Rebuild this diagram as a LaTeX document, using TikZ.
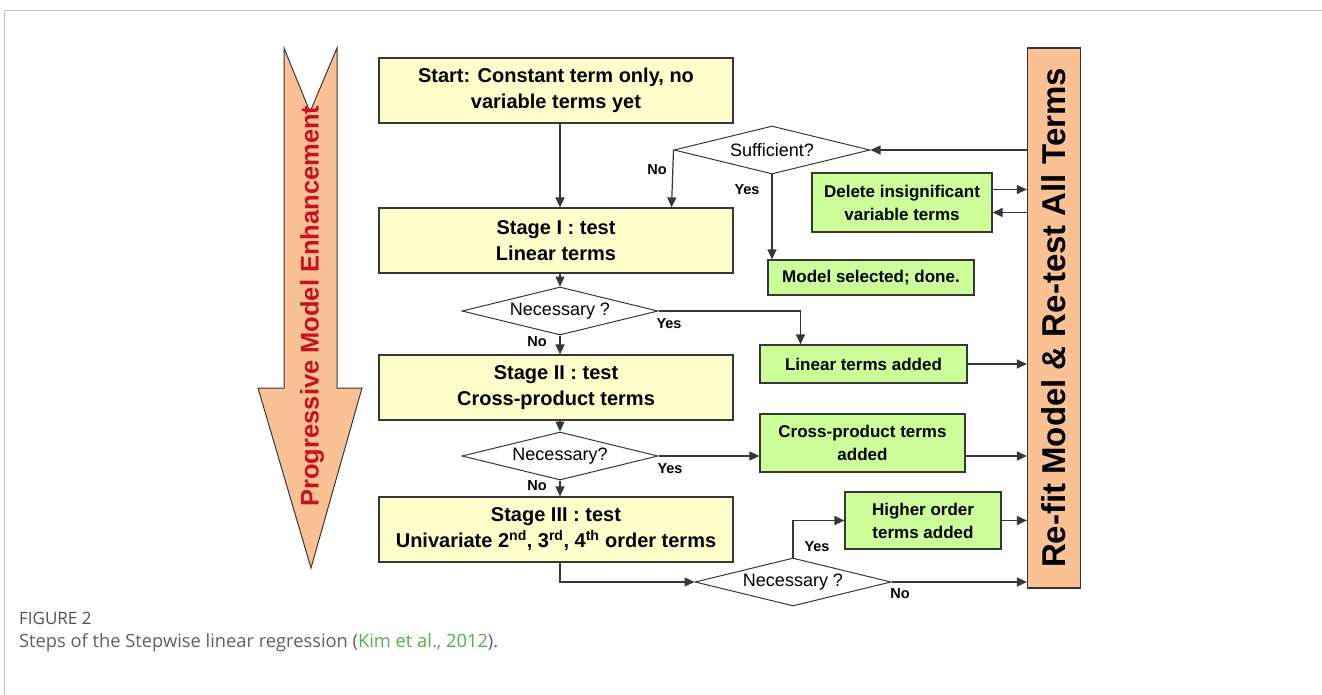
\documentclass[tikz,border=0pt]{standalone}
\usepackage{fontspec}
\setmainfont{Liberation Sans}
\newfontfamily\capfont{Open Sans}
\usetikzlibrary{shapes.geometric,arrows.meta}

\definecolor{stagefill}{RGB}{255,255,204}
\definecolor{addfill}{RGB}{204,255,153}
\definecolor{refitfill}{RGB}{250,194,148}
\definecolor{boxline}{RGB}{55,55,55}
\definecolor{enhred}{RGB}{200,16,32}
\definecolor{framegray}{RGB}{195,195,195}
\definecolor{capgray}{RGB}{95,95,95}
\definecolor{capgreen}{RGB}{80,176,80}

\tikzset{
  stagebox/.style={draw=boxline, fill=stagefill, line width=1.2pt, minimum width=354, minimum height=65, inner sep=0pt, align=center, font=\bfseries\fontsize{20}{26}\selectfont},
  addbox/.style={draw=boxline, fill=addfill, line width=1.2pt, inner sep=0pt, align=center, font=\bfseries\fontsize{17}{23}\selectfont},
  testdia/.style={diamond, draw=boxline, fill=white, line width=1pt, aspect=4, minimum width=196, minimum height=48, inner sep=0pt, font=\fontsize{18}{20}\selectfont},
  yesno/.style={font=\bfseries\fontsize{14.5}{16}\selectfont, inner sep=0pt},
  flow/.style={draw=boxline, line width=1.2pt, -{Triangle[length=10pt,width=9pt]}}
}

\begin{document}
\begin{tikzpicture}[x=1pt, y=-1pt]
  \useasboundingbox (0,0) rectangle (1322,695);

  % frame
  \draw[framegray, line width=1pt] (4,695) -- (4,11) -- (1322,11);

  % left arrow
  \draw[boxline, fill=refitfill, line width=1pt]
    (284,48) -- (310,112) -- (337,48) -- (337,388) -- (362,388) -- (311,568)
    -- (258,388) -- (284,388) -- cycle;
  \node (enh) at (312,306) [text=enhred, font=\bfseries\fontsize{25.5}{25.5}\selectfont] {\rotatebox{90}{Progressive Model Enhancement}};

  % right box
  \node (refit) at (1054,318) [draw=boxline, fill=refitfill, line width=1.2pt, minimum width=53, minimum height=540, inner sep=0pt, font=\bfseries\fontsize{33}{33}\selectfont] {\rotatebox{90}{Re-fit Model \& Re-test All Terms}};

  % stages
  \node (start) at (556,90.5)  [stagebox] {Start: Constant term only, no\\variable terms yet};
  \node (st1)   at (556,240.5) [stagebox] {Stage I : test\\Linear terms};
  \node (st2)   at (556,387.5) [stagebox] {Stage II : test\\Cross-product terms};
  \node (st3)   at (556,529.5) [stagebox] {Stage III : test\\Univariate 2\textsuperscript{nd}, 3\textsuperscript{rd}, 4\textsuperscript{th} order terms};

  % tests
  \node (suff) at (772,150) [testdia] {Sufficient?};
  \node (nec1) at (560,311) [testdia] {Necessary ?};
  \node (nec2) at (560,456) [testdia] {Necessary?};
  \node (nec3) at (793,582) [testdia] {Necessary ?};

  % green boxes
  \node (del)   at (902,202.5) [addbox, minimum width=180, minimum height=59] {Delete insignificant\\variable terms};
  \node (sel)   at (871,277.5) [addbox, minimum width=206, minimum height=35] {Model selected; done.};
  \node (lin)   at (863.5,364) [addbox, minimum width=207, minimum height=38] {Linear terms added};
  \node (cross) at (862.5,443) [addbox, minimum width=205, minimum height=58] {Cross-product terms\\added};
  \node (high)  at (923,520.5) [addbox, minimum width=156, minimum height=57] {Higher order\\terms added};

  % helper points
  \coordinate (delout) at ([yshift=13pt]del.east);
  \coordinate (delin)  at ([yshift=-10pt]del.east);

  % connectors
  \draw[flow] (start.south -| nec1.north) -- (st1.north -| nec1.north);
  \draw[flow] (refit.west |- suff.east) -- (suff.east);
  \draw[flow] (suff.west) -- ([xshift=-2pt]suff.west |- st1.north);
  \draw[flow] (suff.south) -- (suff.south |- sel.north);
  \draw[flow] (delout) -- (delout -| refit.west);
  \draw[flow] (delin -| refit.west) -- (delin);

  \draw[flow] (st1.south -| nec1.north) -- (nec1.north);
  \draw[flow] (nec1.east) -| ([xshift=-63pt]lin.north);
  \draw[flow] (nec1.south) -- (st2.north -| nec1.south);
  \draw[flow] (lin.east) -- (lin.east -| refit.west);

  \draw[flow] (st2.south -| nec2.north) -- (nec2.north);
  \draw[flow] (nec2.east) -- (nec2.east -| cross.west);
  \draw[flow] (nec2.south) -- (st3.north -| nec2.south);
  \draw[flow] (cross.east |- nec2.east) -- (refit.west |- nec2.east);

  \draw[flow] (st3.south -| nec2.south) |- (nec3.west);
  \draw[flow] (nec3.north) |- (high.west);
  \draw[flow] (high.east) -- (high.east -| refit.west);
  \draw[flow] (nec3.east) -- (nec3.east -| refit.west);

  % yes / no labels
  \node (suffno)  at (657,170) [yesno] {No};
  \node (suffyes) at (747,190) [yesno] {Yes};
  \node (n1yes)   at (669,324) [yesno] {Yes};
  \node (n1no)    at (537,342) [yesno] {No};
  \node (n2yes)   at (670,469) [yesno] {Yes};
  \node (n2no)    at (537,486) [yesno] {No};
  \node (n3yes)   at (817,547) [yesno] {Yes};
  \node (n3no)    at (900,594) [yesno] {No};

  % caption
  \node (fig) at (19,618) [anchor=west, inner sep=0pt, text=capgray!85!black, font=\capfont\fontsize{17}{20}\selectfont] {FIGURE 2};
  \node (cap) at (19,643) [anchor=west, inner sep=0pt, text=capgray, font=\capfont\fontsize{18.3}{22}\selectfont] {Steps of the Stepwise linear regression (\textcolor{capgreen}{Kim et al., 2012}).};
\end{tikzpicture}
\end{document}
